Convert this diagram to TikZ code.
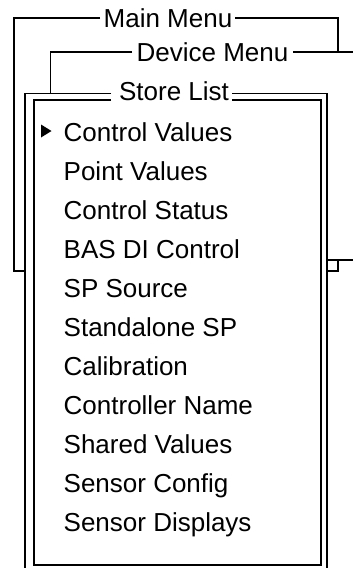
\documentclass[tikz,border=0pt]{standalone}
\usepackage{fontspec}
\setmainfont{Liberation Sans}
\begin{document}
\begin{tikzpicture}[x=1pt,y=-1pt,
  thinframe/.style={line width=1.1pt, line join=miter},
  thickframe/.style={line width=1.8pt, line join=miter},
  title/.style={font=\fontsize{26}{30}\selectfont, inner sep=0pt, text height=18pt, text depth=0pt},
  item/.style={font=\fontsize{26}{30}\selectfont, inner sep=0pt, anchor=base west}]
\useasboundingbox (0,0) rectangle (353,568);

% menu titles, centred on their frame lines
\node[title] (mainmenu)   at (168,18)   {Main Menu};
\node[title] (devicemenu) at (212.5,52) {Device Menu};
\node[title] (storelist)  at (174,91)   {Store List};

% Main Menu window (behind)
\draw[thinframe] (100,18) -- (14,18) -- (14,271) -- (25,271);
\draw[thinframe] (235,18) -- (338,18) -- (338,52);
\draw[thinframe] (338,260) -- (338,271) -- (327,271);

% Device Menu window
\draw[thinframe] (132,52) -- (50.5,52) -- (50.5,93.5);
\draw[thinframe] (293,52) -- (353,52);
\draw[thinframe] (327,260) -- (353,260);

% Store List window, double frame
\draw[thickframe] (111,93.5) -- (25,93.5) -- (25,568);
\draw[thickframe] (232,93.5) -- (327,93.5) -- (327,568);
\draw[thickframe] (111,100) -- (34,100) -- (34,565) -- (321,565) -- (321,100) -- (232,100);

% list entries
\foreach \t [count=\i from 0] in {Control Values, Point Values, Control Status,
    BAS DI Control, SP Source, Standalone SP, Calibration, Controller Name,
    Shared Values, Sensor Config, Sensor Displays}
  \node[item] (entry\i) at (63.5,{141.7+39*\i}) {\t};

% selection marker
\fill (41,124.5) -- (51.5,131) -- (41,137.5) -- cycle;
\end{tikzpicture}
\end{document}
